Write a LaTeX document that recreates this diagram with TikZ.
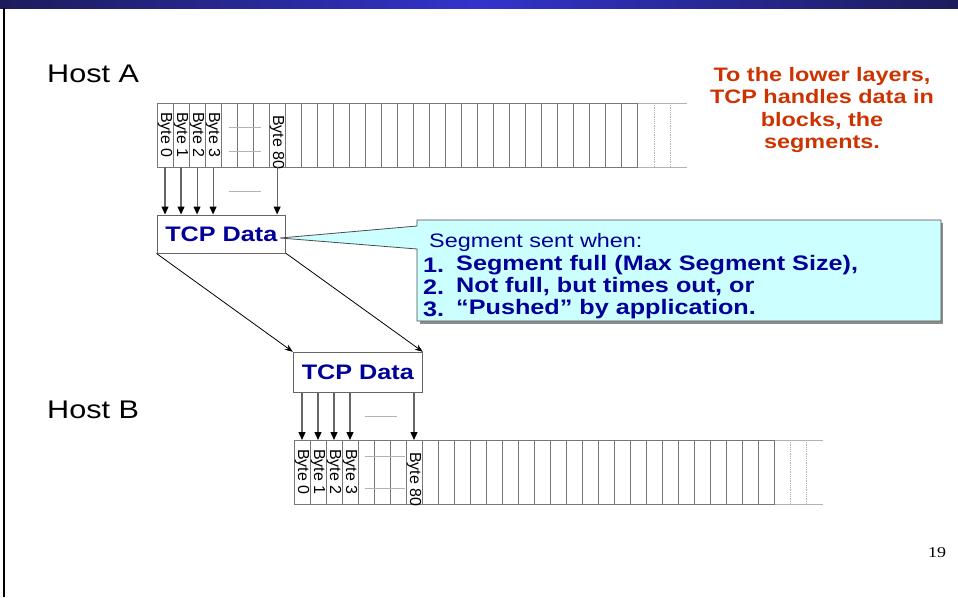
\documentclass[tikz,border=0pt]{standalone}
\usepackage{fontspec}
\setmainfont[FakeStretch=1.2]{Liberation Sans}
\newfontfamily\plainsans{Liberation Sans}
\newfontfamily\serifnum[FakeStretch=1.2]{Liberation Serif}
\usetikzlibrary{arrows.meta}
\definecolor{navy}{HTML}{000099}
\definecolor{redtxt}{HTML}{CC3300}
\definecolor{callfill}{HTML}{CCFFFF}
\definecolor{cellline}{HTML}{777777}
\definecolor{bardark}{HTML}{1C1C5C}
\definecolor{barmid}{HTML}{3333CC}
\tikzset{
  cellstroke/.style={draw=cellline, line width=1pt},
  faint/.style={draw=black!30, line width=0.8pt},
  faintdot/.style={draw=black!30, line width=0.8pt, densely dotted},
  ellip/.style={draw=black!30, line width=0.7pt},
  bytelbl/.style={rotate=-90, anchor=west, inner sep=0pt, font=\plainsans\fontsize{16}{16}\selectfont},
  downarr/.style={draw=black!60, line width=1.1pt, -{Triangle[length=8pt,width=7pt,color=black]}},
  crossarr/.style={draw=black, line width=0.8pt, -{Stealth[length=8pt,width=6pt]}},
  tcpbox/.style={draw=black!60, line width=1pt, fill=white, minimum width=128.7pt, minimum height=38pt, inner sep=0pt, text=navy, font=\bfseries\fontsize{21}{24}\selectfont},
  hostlbl/.style={anchor=west, inner sep=0pt, font=\fontsize{25.5}{30}\selectfont},
  numlbl/.style={anchor=west, inner sep=0pt, text=navy, font=\bfseries\fontsize{21}{24}\selectfont},
}
\begin{document}
\begin{tikzpicture}[x=1pt,y=-1pt]
\useasboundingbox (0,0) rectangle (958,597);
% title bar and left rule
\shade[left color=bardark, right color=bardark, middle color=barmid] (0,0) rectangle (958,8);
\draw[line width=2pt] (4,8) -- (4,597);

% Host labels
\node[hostlbl] (hostA) at (47,74) {Host A};
\node[hostlbl] (hostB) at (47,410) {Host B};

% red note
\node[align=center, text=redtxt, inner sep=0pt, font=\bfseries\fontsize{19.5}{22.2}\selectfont] (note) at (822,110) {To the lower layers,\\TCP handles data in\\blocks, the\\segments.};

% ---------- upper byte strip ----------
\def\ux{157}\def\uw{16.02}
\draw[faint] (637.7,103) -- (686.7,103);
\draw[faint] (637.7,167) -- (686.7,167);
\draw[faintdot] (654,103) -- (654,167);
\draw[faintdot] (670,103) -- (670,167);
\foreach \i in {0,...,29} {
  \draw[cellstroke] ({\ux+\uw*\i},103) rectangle ++(\uw,64);
}
\draw[ellip] (229,127.7) -- (261,127.7);
\draw[ellip] (229,151.7) -- (261,151.7);
\draw[ellip] (229,191.7) -- (261,191.7);
\foreach \i/\t in {0/Byte 0,1/Byte 1,2/Byte 2,3/Byte 3} {
  \node[bytelbl] (ua\i) at ({\ux+\uw*(\i+0.5)},112) {\t};
  \coordinate (uab\i) at ({\ux+\uw*(\i+0.5)},167);
}
\node[bytelbl] (ua7) at ({\ux+\uw*7.5},115) {Byte 80};
\coordinate (uab7) at ({\ux+\uw*7.5},167);

% upper TCP box
\node[tcpbox] (tcpA) at (221.35,234) {TCP Data};
\foreach \i in {0,1,2,3,7} {
  \draw[downarr] (uab\i) -- (uab\i |- tcpA.north);
}

% lower TCP box
\node[tcpbox, minimum width=129pt, minimum height=40pt] (tcpB) at (357.8,372.3) {TCP Data};
\draw[crossarr] (tcpA.south west) -- (tcpB.north west);
\draw[crossarr] (tcpA.south east) -- (tcpB.north east);

% ---------- lower byte strip ----------
\def\lx{294}\def\lw{16}
\draw[faint] (774,440) -- (822.7,440);
\draw[faint] (774,504) -- (822.7,504);
\draw[faintdot] (790,440) -- (790,504);
\draw[faintdot] (806,440) -- (806,504);
\foreach \i in {0,...,29} {
  \draw[cellstroke] ({\lx+\lw*\i},440) rectangle ++(\lw,64);
}
\draw[ellip] (365,416) -- (397,416);
\draw[ellip] (365,456) -- (405,456);
\draw[ellip] (365,488) -- (405,488);
\foreach \i/\t in {0/Byte 0,1/Byte 1,2/Byte 2,3/Byte 3} {
  \node[bytelbl] (lb\i) at ({\lx+\lw*(\i+0.5)},449) {\t};
  \coordinate (lbt\i) at ({\lx+\lw*(\i+0.5)},440);
}
\node[bytelbl] (lb7) at ({\lx+\lw*7.5},452) {Byte 80};
\coordinate (lbt7) at ({\lx+\lw*7.5},440);
\foreach \i in {0,1,2,3,7} {
  \draw[downarr] (lbt\i |- tcpB.south) -- (lbt\i);
}

% ---------- callout ----------
\coordinate (ctip) at (280,238);
\fill[black!45] (420,223) rectangle (943,323.5);
\filldraw[fill=callfill, draw=black!70, line width=0.8pt]
  (417,220) -- (941,220) -- (941,321) -- (417,321) -- (417,249) -- (ctip) -- (417,226) -- cycle;
\node[anchor=west, inner sep=0pt, text=navy, font=\fontsize{19.5}{25}\selectfont] (csent) at (429,242) {Segment sent when:};
\node[numlbl] (n1) at (423,265) {1.};
\node[numlbl] (t1) at (456,265) {Segment full (Max Segment Size),};
\node[numlbl] (n2) at (423,287) {2.};
\node[numlbl] (t2) at (456,287) {Not full, but times out, or};
\node[numlbl] (n3) at (423,309) {3.};
\node[numlbl] (t3) at (456,309) {\char"201C Pushed\char"201D{} by application.};

% page number
\node[inner sep=0pt, font=\serifnum\fontsize{15}{15}\selectfont] (pg) at (937,553) {19};
\end{tikzpicture}
\end{document}
